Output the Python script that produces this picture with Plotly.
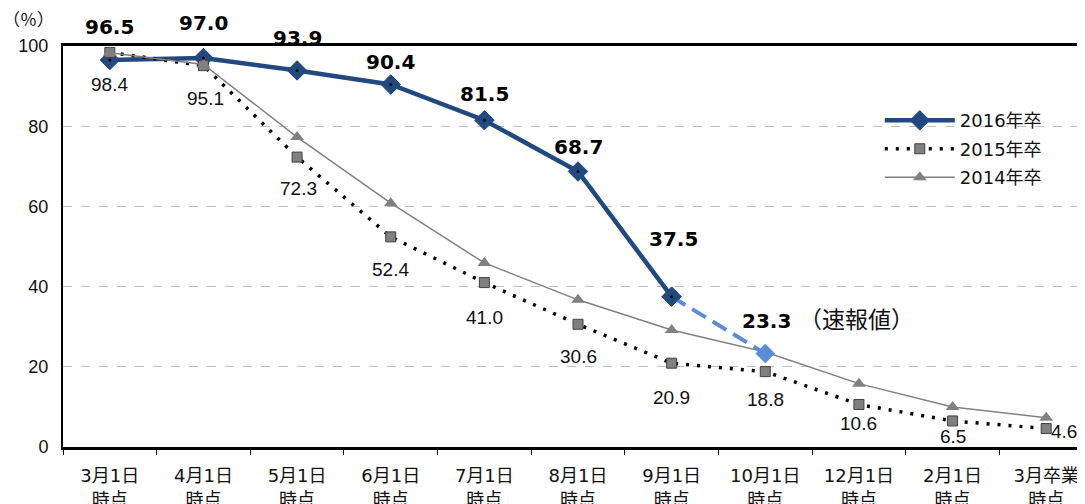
import plotly.graph_objects as go

categories = ["3月1日<br>時点", "4月1日<br>時点", "5月1日<br>時点", "6月1日<br>時点",
              "7月1日<br>時点", "8月1日<br>時点", "9月1日<br>時点", "10月1日<br>時点",
              "12月1日<br>時点", "2月1日<br>時点", "3月卒業<br>時点"]
y2016 = [96.5, 97.0, 93.9, 90.4, 81.5, 68.7, 37.5, 23.3]
y2015 = [98.4, 95.1, 72.3, 52.4, 41.0, 30.6, 20.9, 18.8, 10.6, 6.5, 4.6]
y2014 = [98.3, 95.4, 77.3, 60.8, 45.9, 36.7, 29.2, 23.7, 15.8, 10.0, 7.3]
labels2016 = ["96.5", "97.0", "93.9", "90.4", "81.5", "68.7", "37.5", "23.3"]
labels2015 = ["98.4", "95.1", "72.3", "52.4", "41.0", "30.6", "20.9", "18.8", "10.6", "6.5", "4.6"]

# label offsets (pixels)
off2016 = [(0, 33), (0, 35), (0, 32), (0, 23), (0, 26), (0, 25), (2, 58), (1, 33)]
off2015 = [(0, -32), (2, -33), (1, -31), (0, -33), (0, -35), (0, -32), (0, -34), (0, -28),
           (0, -19), (0, -16), (18, -3)]

DARK = "#21497F"
LIGHT = "#5A8DD6"
GRAY = "#808080"
NUMFONT = "Liberation Sans"
TXTFONT = "DejaVu Sans, Noto Sans CJK JP"

fig = go.Figure()
fig.add_trace(go.Scatter(
    x=categories[:7], y=y2016[:7], mode="lines+markers", name="2016年卒",
    line=dict(color=DARK, width=4.5),
    marker=dict(symbol="diamond", size=15, color=DARK, line=dict(color=DARK, width=1)),
    legendgroup="a"))
fig.add_trace(go.Scatter(
    x=categories, y=y2015, mode="lines+markers", name="2015年卒",
    line=dict(color="black", width=3.5, dash="3px,8px"),
    marker=dict(symbol="square", size=10, color=GRAY, line=dict(color="#404040", width=1)),
    legendgroup="b"))
fig.add_trace(go.Scatter(
    x=categories, y=y2014, mode="lines+markers", name="2014年卒",
    line=dict(color=GRAY, width=1.5),
    marker=dict(symbol="triangle-up", size=12, color=GRAY),
    legendgroup="c"))
fig.add_trace(go.Scatter(
    x=categories[6:8], y=y2016[6:8], mode="lines", showlegend=False,
    line=dict(color=LIGHT, width=4, dash="16px,8px")))
fig.add_trace(go.Scatter(
    x=categories[6:7], y=y2016[6:7], mode="markers", showlegend=False,
    marker=dict(symbol="diamond", size=15, color=DARK)))
fig.add_trace(go.Scatter(
    x=categories[7:8], y=y2016[7:8], mode="markers", showlegend=False,
    marker=dict(symbol="diamond", size=15, color=LIGHT)))
fig.add_trace(go.Scatter(
    x=categories[:7], y=y2016[:7], mode="markers", showlegend=False,
    marker=dict(symbol="circle", size=3, color="black")))

ann = []
for i, (v, t) in enumerate(zip(y2016, labels2016)):
    ann.append(dict(x=categories[i], y=v, text=t, showarrow=False,
                    xshift=off2016[i][0], yshift=off2016[i][1],
                    font=dict(family="DejaVu Sans", size=20, color="black", weight="bold")))
for i, (v, t) in enumerate(zip(y2015, labels2015)):
    ann.append(dict(x=categories[i], y=v, text=t, showarrow=False,
                    xshift=off2015[i][0], yshift=off2015[i][1],
                    font=dict(family=NUMFONT, size=19, color="#111111")))
ann.append(dict(x=categories[7], y=y2016[7], text="（速報値）", showarrow=False,
                xshift=91, yshift=36,
                font=dict(family="Noto Sans CJK JP", size=23, color="#111111")))
ann.append(dict(x=0.0, y=1.0, xref="paper", yref="paper", text="（％）", showarrow=False,
                xshift=-35, yshift=28, xanchor="center", yanchor="middle",
                font=dict(family="Noto Sans CJK JP", size=17, color="#111111")))

fig.update_layout(
    width=1085, height=504,
    margin=dict(l=55, r=0, t=38, b=65),
    paper_bgcolor="white", plot_bgcolor="white",
    annotations=ann,
    showlegend=True,
    legend=dict(x=0.793, y=0.86, xanchor="left", yanchor="top",
                bgcolor="rgba(0,0,0,0)", itemwidth=70, tracegroupgap=2,
                font=dict(family=TXTFONT, size=18, color="#111111")),
    font=dict(family=TXTFONT, color="#111111"),
)
fig.update_xaxes(
    type="category", categoryorder="array", categoryarray=categories,
    range=[-0.5, 10.5], showline=True, linecolor="black", linewidth=2.5, mirror=True,
    ticks="outside", tickson="boundaries", ticklen=5, tickcolor="black", tickwidth=1,
    showgrid=False, tickfont=dict(family=TXTFONT, size=18, color="#111111"),
    ticklabelstandoff=11,
)
fig.update_yaxes(
    range=[0, 100], dtick=20, showline=True, linecolor="black", linewidth=2,
    showgrid=True, gridcolor="#BFBFBF", griddash="dash", gridwidth=1, zeroline=False,
    ticks="", ticklabelstandoff=9,
    tickfont=dict(family=NUMFONT, size=18, color="#111111"),
)

fig.write_html("out.html")
